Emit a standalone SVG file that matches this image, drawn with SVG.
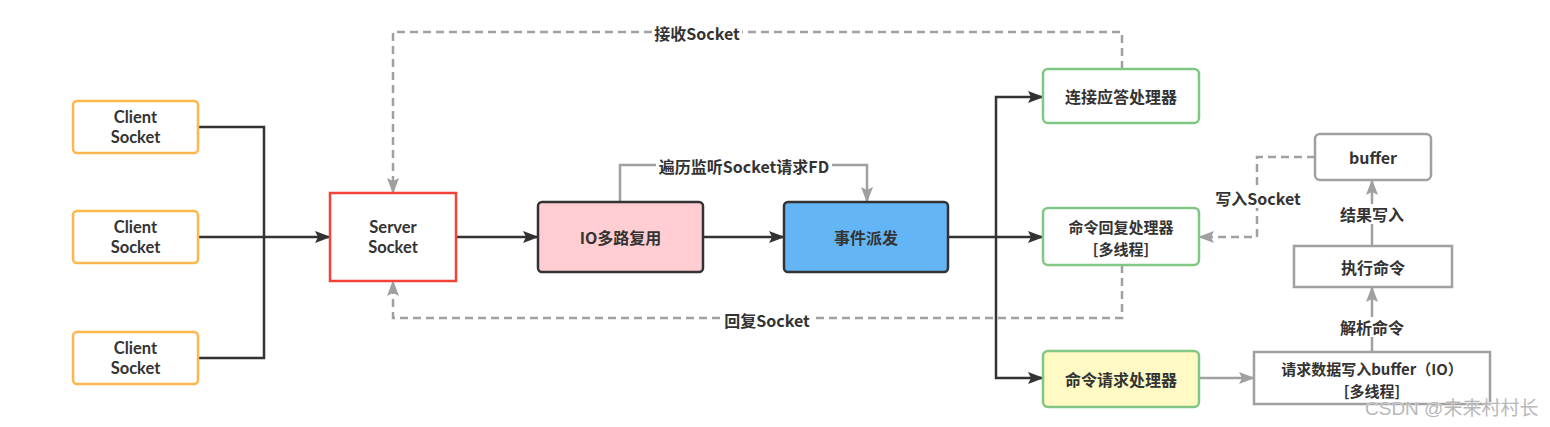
<svg xmlns="http://www.w3.org/2000/svg" width="1550" height="427" viewBox="0 0 1550 427">
<style>
text{font-family:"Noto Sans CJK SC","Noto Sans",sans-serif;font-size:16px;font-weight:bold;fill:#333;text-anchor:middle;dominant-baseline:central}
text.lat{font-family:"Lato","Liberation Sans",sans-serif;font-size:16.5px}
text.two{font-size:15px}
.client{fill:#fff;stroke:#FFB74D;stroke-width:2.5}
.server{fill:#fff;stroke:#F44336;stroke-width:2.5}
.dark{stroke:#333;stroke-width:2.5}
.green{stroke:#81C784;stroke-width:2.5}
.gbox{fill:#fff;stroke:#A0A0A0;stroke-width:2.5}
.ln{fill:none;stroke:#333;stroke-width:2.5}
.gl{fill:none;stroke:#A0A0A0;stroke-width:2.5}
.dl{fill:none;stroke:#A0A0A0;stroke-width:2.5;stroke-dasharray:8 5}
.lbg{fill:#fff}
.wm{font-family:"Liberation Sans","Noto Sans CJK SC",sans-serif;font-weight:normal;font-size:19px;fill:#b8b8b8;stroke:#fff;stroke-width:0.6;paint-order:stroke;text-anchor:start;dominant-baseline:auto}
</style>
<defs>
<marker id="ad" viewBox="0 0 16 12" markerWidth="16" markerHeight="12" refX="15" refY="6" orient="auto" markerUnits="userSpaceOnUse"><path d="M0,0 L16,6 L0,12 L3,6 z" fill="#333"/></marker>
<marker id="ag" viewBox="0 0 16 12" markerWidth="16" markerHeight="12" refX="15" refY="6" orient="auto" markerUnits="userSpaceOnUse"><path d="M0,0 L16,6 L0,12 L3,6 z" fill="#A0A0A0"/></marker>
</defs>
<g id="connectors">
<path class="ln" d="M198,127 H264 V237"/>
<path class="ln" d="M198,358 H264 V237"/>
<path class="ln" d="M198,237 H330" marker-end="url(#ad)"/>
<path class="ln" d="M456,237 H538" marker-end="url(#ad)"/>
<path class="ln" d="M703,237 H784" marker-end="url(#ad)"/>
<path class="ln" d="M948,237 H1043" marker-end="url(#ad)"/>
<path class="ln" d="M996,237 V97 H1043" marker-end="url(#ad)"/>
<path class="ln" d="M996,237 V378 H1043" marker-end="url(#ad)"/>
<path class="gl" d="M620,202 V165 H867 V202" marker-end="url(#ag)"/>
<path class="dl" d="M1122,69 V32 H393 V193" marker-end="url(#ag)"/>
<path class="dl" d="M1122,265 V318 H393 V281" marker-end="url(#ag)"/>
<path class="dl" d="M1315,157 H1257 V237 H1199" marker-end="url(#ag)"/>
<path class="gl" d="M1372,246 V180" marker-end="url(#ag)"/>
<path class="gl" d="M1372,352 V287" marker-end="url(#ag)"/>
<path class="gl" d="M1199,378 H1254" marker-end="url(#ag)"/>
<rect class="lbg" x="652" y="23" width="90" height="20"/>
<text x="697" y="33">接收Socket</text>
<rect class="lbg" x="723" y="310" width="88" height="20"/>
<text x="767" y="320">回复Socket</text>
<rect class="lbg" x="656" y="156" width="176" height="20"/>
<text x="744" y="166">遍历监听Socket请求FD</text>
<rect class="lbg" x="1213" y="188" width="90" height="20"/>
<text x="1258" y="198">写入Socket</text>
<rect class="lbg" x="1338" y="204" width="68" height="20"/>
<text x="1372" y="214">结果写入</text>
<rect class="lbg" x="1338" y="317" width="68" height="20"/>
<text x="1372" y="327">解析命令</text>
</g>
<g id="client1"><rect class="client" x="73" y="101" width="125" height="52" rx="4"/><text class="lat" x="135.5" y="117">Client<tspan x="135.5" dy="20">Socket</tspan></text></g>
<g id="client2"><rect class="client" x="73" y="211" width="125" height="52" rx="4"/><text class="lat" x="135.5" y="227">Client<tspan x="135.5" dy="20">Socket</tspan></text></g>
<g id="client3"><rect class="client" x="73" y="332" width="125" height="52" rx="4"/><text class="lat" x="135.5" y="348">Client<tspan x="135.5" dy="20">Socket</tspan></text></g>
<g id="server"><rect class="server" x="330" y="193" width="126" height="88"/><text class="lat" x="393" y="227">Server<tspan x="393" dy="20">Socket</tspan></text></g>
<g id="io"><rect class="dark" fill="#FFCDD2" x="538" y="202" width="165" height="70" rx="4"/><text x="620.5" y="237">IO多路复用</text></g>
<g id="dispatch"><rect class="dark" fill="#64B5F6" x="784" y="202" width="164" height="70" rx="4"/><text x="866" y="237">事件派发</text></g>
<g id="accept"><rect class="green" fill="#fff" x="1043" y="69" width="156" height="54" rx="5"/><text x="1121" y="96">连接应答处理器</text></g>
<g id="reply"><rect class="green" fill="#fff" x="1043" y="208" width="156" height="57" rx="5"/><text class="two" x="1121" y="226">命令回复处理器<tspan x="1121" dy="22">[多线程]</tspan></text></g>
<g id="request"><rect class="green" fill="#FFF9C4" x="1043" y="351" width="156" height="56" rx="5"/><text x="1121" y="379">命令请求处理器</text></g>
<g id="buffer"><rect class="gbox" x="1315" y="134" width="116" height="46" rx="5"/><text x="1373" y="157">buffer</text></g>
<g id="exec"><rect class="gbox" x="1294" y="246" width="158" height="41"/><text x="1373" y="267">执行命令</text></g>
<g id="write"><rect class="gbox" x="1254" y="352" width="236" height="52"/><text class="two" x="1372" y="368">请求数据写入buffer（IO）<tspan x="1372" dy="22">[多线程]</tspan></text></g>
<text class="wm" x="1365" y="415">CSDN @未来村村长</text>
</svg>
